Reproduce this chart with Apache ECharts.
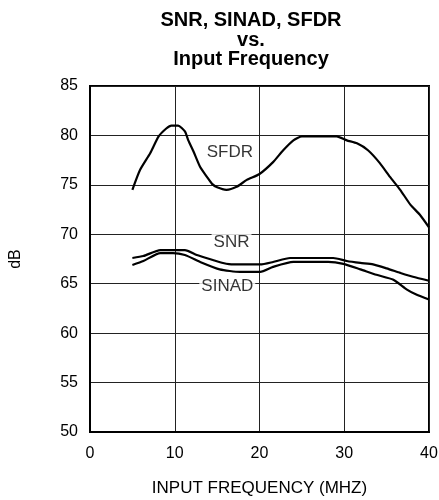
<!DOCTYPE html>
<html>
<head>
<meta charset="utf-8">
<script src="https://cdn.jsdelivr.net/npm/echarts@6/dist/echarts.min.js"></script>
<style>
html,body{margin:0;padding:0;background:#fff;}
#c{width:439px;height:500px;}
</style>
</head>
<body>
<div id="c"></div>
<script>
var titleLines = ['SNR, SINAD, SFDR', 'vs.', 'Input Frequency'];
var xTicks = [0, 10, 20, 30, 40];
var yTicks = [50, 55, 60, 65, 70, 75, 80, 85];
var xName = 'INPUT FREQUENCY (MHZ)';
var yName = 'dB';

var sfdr = [[5,74.5],[5.9,76.5],[7.1,78.2],[8.1,79.9],[9,80.7],[9.6,81.0],[10.4,81.0],[11.2,80.4],[11.6,79.5],[12.2,78.4],[13,76.8],[13.8,75.8],[14.4,75.1],[15,74.75],[16.1,74.5],[17.3,74.8],[18.5,75.5],[20,76.1],[21.6,77.3],[22.8,78.5],[24,79.5],[25,79.9],[29.1,79.9],[30.3,79.5],[31.5,79.2],[32.8,78.5],[34.2,77.2],[35.4,75.8],[36.6,74.5],[37.8,73.0],[38.9,72.0],[40,70.7]];
var snr = [[5,67.6],[6.3,67.8],[8.3,68.4],[11.2,68.4],[12.6,67.9],[14.5,67.4],[15.7,67.1],[16.9,66.95],[20.1,66.95],[21.6,67.2],[23.6,67.6],[28.7,67.6],[30.3,67.3],[31.9,67.1],[33.4,66.95],[35,66.55],[36.6,66.1],[38.1,65.7],[40,65.3]];
var sinad = [[5,66.9],[6.3,67.3],[8.3,68.1],[9.8,68.1],[11.2,67.9],[13,67.2],[15.3,66.45],[17.7,66.2],[20.1,66.2],[21.6,66.7],[24,67.2],[28.1,67.2],[29.9,67.0],[31.9,66.45],[33.8,65.9],[35.8,65.4],[37.4,64.4],[38.5,63.9],[40,63.4]];
var curveLabels = [[16.5,78.25,'SFDR'],[16.7,69.15,'SNR'],[16.2,64.7,'SINAD']];

var FF = 'Liberation Sans, Arial, sans-serif';
var chart = echarts.init(document.getElementById('c'), null, {renderer:'canvas'});

function lineSeries(name, data){
  return {
    name: name, type: 'line', data: data, symbol: 'none', smooth: 0.2,
    lineStyle: {color: '#000', width: 2.2}, z: 3
  };
}

chart.setOption({
  animation: false,
  backgroundColor: '#fff',
  graphic: [{
    type: 'text', x: 251, y: 11,
    style: {
      text: titleLines.join('\n'), align: 'center', verticalAlign: 'top',
      fontFamily: FF, fontSize: 20, fontWeight: 'bold', lineHeight: 19.5, fill: '#000'
    }
  }],
  grid: {left: 90, right: 10, top: 86, bottom: 68, containLabel: false, outerBoundsMode: 'none',
         show: true, borderColor: '#000', borderWidth: 2, backgroundColor: 'transparent'},
  xAxis: {
    type: 'value', min: xTicks[0], max: xTicks[xTicks.length-1], interval: 10,
    name: xName, nameLocation: 'middle', nameGap: 48,
    nameTextStyle: {fontFamily: FF, fontSize: 17, color: '#000'},
    axisLine: {show: true, lineStyle: {color: '#000', width: 2}},
    axisTick: {show: false},
    axisLabel: {fontFamily: FF, fontSize: 16, color: '#000', margin: 14},
    splitLine: {show: true, lineStyle: {color: '#222', width: 1}}
  },
  yAxis: {
    type: 'value', min: yTicks[0], max: yTicks[yTicks.length-1], interval: 5,
    name: yName, nameLocation: 'middle', nameGap: 66, nameRotate: 90,
    nameTextStyle: {fontFamily: FF, fontSize: 16, color: '#000'},
    axisLine: {show: true, lineStyle: {color: '#000', width: 2}},
    axisTick: {show: false},
    axisLabel: {fontFamily: FF, fontSize: 16, color: '#000', margin: 12},
    splitLine: {show: true, lineStyle: {color: '#222', width: 1}}
  },
  series: [
    lineSeries('SFDR', sfdr),
    lineSeries('SNR', snr),
    lineSeries('SINAD', sinad),
    {
      type: 'scatter', data: curveLabels, symbolSize: 1, itemStyle: {color: 'rgba(0,0,0,0)'}, z: 4,
      label: {
        show: true, position: 'inside', formatter: function(p){ return p.data[2]; },
        fontFamily: FF, fontSize: 17, color: '#000', backgroundColor: '#fff', padding: [1, 2]
      }
    }
  ]
});
</script>
</body>
</html>
